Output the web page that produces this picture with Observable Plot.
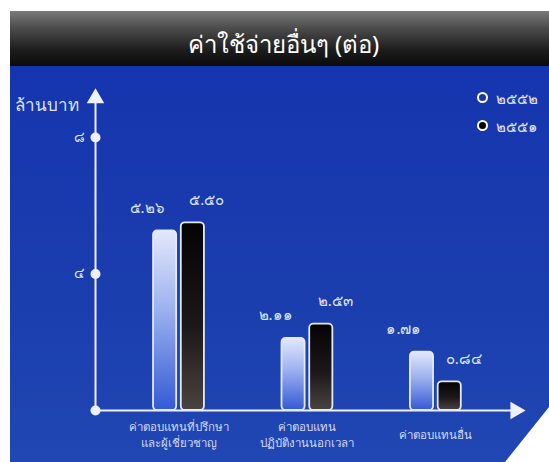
<!DOCTYPE html>
<html><head><meta charset="utf-8">
<script src="https://cdn.jsdelivr.net/npm/d3@7"></script>
<script src="https://cdn.jsdelivr.net/npm/@observablehq/plot@0.6"></script>
<style>
html,body{margin:0;padding:0;background:#fff;}
body{width:549px;height:462px;overflow:hidden;position:relative;font-family:"Noto Sans","DejaVu Sans",sans-serif;}
#wrap{position:absolute;left:10px;top:11px;width:539px;height:451px;}
#header{height:55px;background:linear-gradient(180deg,#7a7a7a 0%,#4d4d4d 30%,#1e1e1e 70%,#0a0a0a 100%);color:#fff;font-size:24px;text-align:center;line-height:66px;padding-left:8px;box-sizing:border-box;overflow:hidden;}
#chart{position:relative;width:539px;height:396px;background:linear-gradient(180deg,#1535ae 0%,#1b3eae 60%,#2047b4 100%);}
#chart svg{display:block;}
.leg{position:absolute;left:467px;font-size:15px;color:#dfe3f5;line-height:16px;white-space:nowrap;}
.leg i{display:inline-block;width:7px;height:7px;border-radius:50%;margin-right:8px;vertical-align:1px;}
#corner{position:absolute;right:0;bottom:0;width:44px;height:55px;background:#fff;clip-path:polygon(100% 0,100% 100%,0 100%);}
</style></head>
<body>
<div id="wrap">
  <div id="header"></div>
  <div id="chart"></div>
</div>
<div id="corner"></div>
<script>
// ---- data ----
const title = "ค่าใช้จ่ายอื่นๆ (ต่อ)";
const yLabel = "ล้านบาท";
const categories = ["ค่าตอบแทนที่ปรึกษา\nและผู้เชี่ยวชาญ", "ค่าตอบแทน\nปฏิบัติงานนอกเวลา", "ค่าตอบแทนอื่น"];
const years = ["๒๕๕๒", "๒๕๕๑"];
const values2552 = [5.26, 2.11, 1.71];
const values2551 = [5.50, 2.53, 0.84];
const yTicks = [4, 8];

const thaiDigits = "๐๑๒๓๔๕๖๗๘๙";
const toThai = v => String(v).replace(/\d/g, d => thaiDigits[d]);

const rows = categories.flatMap((c, i) => [
  {cat: c, i, year: years[0], value: values2552[i], s: 0},
  {cat: c, i, year: years[1], value: values2551[i], s: 1}
]);
const light = rows.filter(d => d.s === 0);
const dark = rows.filter(d => d.s === 1);

document.getElementById("header").textContent = title;

const xMin = 0.35, xMax = 3.62;
const bw = 0.18, gap = 0.018;
const x1 = d => d.i + 1 + (d.s ? gap : -gap - bw);
const x2 = d => d.i + 1 + (d.s ? gap + bw : -gap);
const xc = d => d.i + 1 + (d.s ? gap + bw / 2 : -gap - bw / 2);
const axisCol = "#eef1fb";
const textCol = "#dfe3f5";
const fmt = d => toThai(d.value.toFixed(2));

const svg = Plot.plot({
  width: 539,
  height: 396,
  marginLeft: 85,
  marginRight: 34,
  marginTop: 71,
  marginBottom: 52,
  style: {background: "transparent", fontFamily: "'Noto Sans','DejaVu Sans',sans-serif"},
  x: {type: "linear", domain: [xMin, xMax], axis: null},
  y: {domain: [0, 8], axis: null},
  marks: [
    Plot.ruleY([0], {stroke: axisCol, strokeWidth: 2}),
    Plot.ruleX([xMin], {y1: 0, y2: 9.15, stroke: axisCol, strokeWidth: 2}),
    Plot.dot([9.15], {y: d => d, frameAnchor: "left", symbol: "triangle", r: 6.5, fill: axisCol, stroke: "none"}),
    Plot.dot([0], {y: d => d, frameAnchor: "right", symbol: "triangle", r: 6.5, rotate: 90, fill: axisCol, stroke: "none"}),
    Plot.dot([0, ...yTicks], {y: d => d, frameAnchor: "left", r: 5, fill: axisCol, stroke: "none"}),
    Plot.text(yTicks, {y: d => d, frameAnchor: "left", text: d => toThai(d), dx: -11, textAnchor: "end", fill: textCol, fontSize: 14}),
    Plot.text([yLabel], {frameAnchor: "top-left", text: d => d, dx: -17, dy: -39, textAnchor: "end", fill: textCol, fontSize: 17}),
    Plot.rectY(light, {x1, x2, y: "value", fill: "url(#gLight)", stroke: "#e4e9f8", strokeWidth: 1.8, rx: 4}),
    Plot.rectY(dark, {x1, x2, y: "value", fill: "url(#gDark)", stroke: "#e4e9f8", strokeWidth: 1.8, rx: 4}),
    Plot.text(light, {x: xc, y: "value", text: fmt, dx: -18, dy: -23, fill: textCol, fontSize: 15}),
    Plot.text(dark, {x: xc, y: "value", text: fmt, dx: 14, dy: -23, fill: textCol, fontSize: 15}),
    Plot.text(categories, {x: (d, i) => i + 1, frameAnchor: "bottom", text: d => d, dy: 23, lineAnchor: "middle", lineHeight: 1.4, fill: "#d3daf2", fontSize: 11.5})
  ]
});

const defs = document.createElementNS("http://www.w3.org/2000/svg", "defs");
defs.innerHTML = `
<linearGradient id="gLight" x1="0" y1="0" x2="0" y2="1">
  <stop offset="0" stop-color="#e2e8fb"/>
  <stop offset="0.45" stop-color="#9bb0ef"/>
  <stop offset="1" stop-color="#3459d4"/>
</linearGradient>
<linearGradient id="gDark" x1="0" y1="0" x2="0" y2="1">
  <stop offset="0" stop-color="#050304"/>
  <stop offset="0.55" stop-color="#1c1718"/>
  <stop offset="1" stop-color="#4a4440"/>
</linearGradient>`;
svg.insertBefore(defs, svg.firstChild);

const chart = document.getElementById("chart");
chart.appendChild(svg);

// legend
years.forEach((y, k) => {
  const div = document.createElement("div");
  div.className = "leg";
  div.style.top = (24 + k * 28) + "px";
  const dot = document.createElement("i");
  dot.style.background = k === 0 ? "transparent" : "#000";
  dot.style.border = "2px solid #fff";
  div.appendChild(dot);
  div.appendChild(document.createTextNode(y));
  chart.appendChild(div);
});
</script>
</body></html>
